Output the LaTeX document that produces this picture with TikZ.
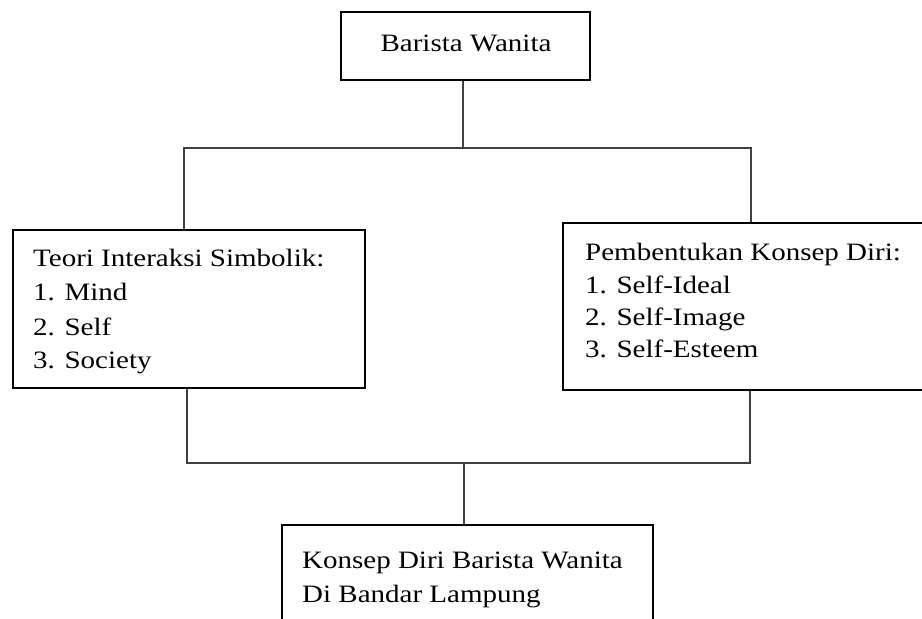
\documentclass[tikz,border=0pt]{standalone}
\usepackage{fontspec}
\setmainfont{Liberation Serif}
\newcommand{\tx}[1]{\scalebox{1.16}[1]{#1}}
\tikzset{
  boxnode/.style={draw, line width=2.7pt, inner sep=0pt, rectangle},
  txt/.style={anchor=base west, inner sep=0pt, font=\fontsize{25}{34}\selectfont},
  conn/.style={draw=black!75, line width=1.3pt}
}
\begin{document}
\begin{tikzpicture}[x=1pt,y=-1pt]
\useasboundingbox[fill=white] (0,0) rectangle (922,619);
% boxes
\node[boxnode, minimum width=249pt, minimum height=68pt] (top) at (465.5,46) {};
\node[boxnode, minimum width=352pt, minimum height=158pt] (left) at (189,309) {};
\node[boxnode, minimum width=362pt, minimum height=167pt] (right) at (744,306.5) {};
\node[boxnode, minimum width=371pt, minimum height=115pt] (bottom) at (467.5,582.5) {};
% texts
\node[txt, anchor=base] (t0) at (466,51) {\tx{Barista Wanita}};
\node[txt] (l1) at (33,266) {\tx{Teori Interaksi Simbolik:}};
\node[txt] (l2) at (33,300) {\tx{1. Mind}};
\node[txt] (l3) at (33,335) {\tx{2. Self}};
\node[txt] (l4) at (33,368) {\tx{3. Society}};
\node[txt] (r1) at (585,260) {\tx{Pembentukan Konsep Diri:}};
\node[txt] (r2) at (585,293) {\tx{1. Self-Ideal}};
\node[txt] (r3) at (585,325) {\tx{2. Self-Image}};
\node[txt] (r4) at (585,357) {\tx{3. Self-Esteem}};
\node[txt] (b1) at (302,568) {\tx{Konsep Diri Barista Wanita}};
\node[txt] (b2) at (302,602) {\tx{Di Bandar Lampung}};
% junctions
\coordinate (jm) at (463,148);
\coordinate (jl) at (184,148);
\coordinate (jr) at (751,148);
\coordinate (kl) at (187,463);
\coordinate (kr) at (750,463);
\coordinate (km) at (464,463);
% connectors
\draw[conn] (top.south -| jm) -- (jm);
\draw[conn] (jl |- left.north) -- (jl) -- (jr) -- (jr |- right.north);
\draw[conn] (left.south -| kl) -- (kl) -- (kr) -- (right.south -| kr);
\draw[conn] (km) -- (km |- bottom.north);
\end{tikzpicture}
\end{document}
